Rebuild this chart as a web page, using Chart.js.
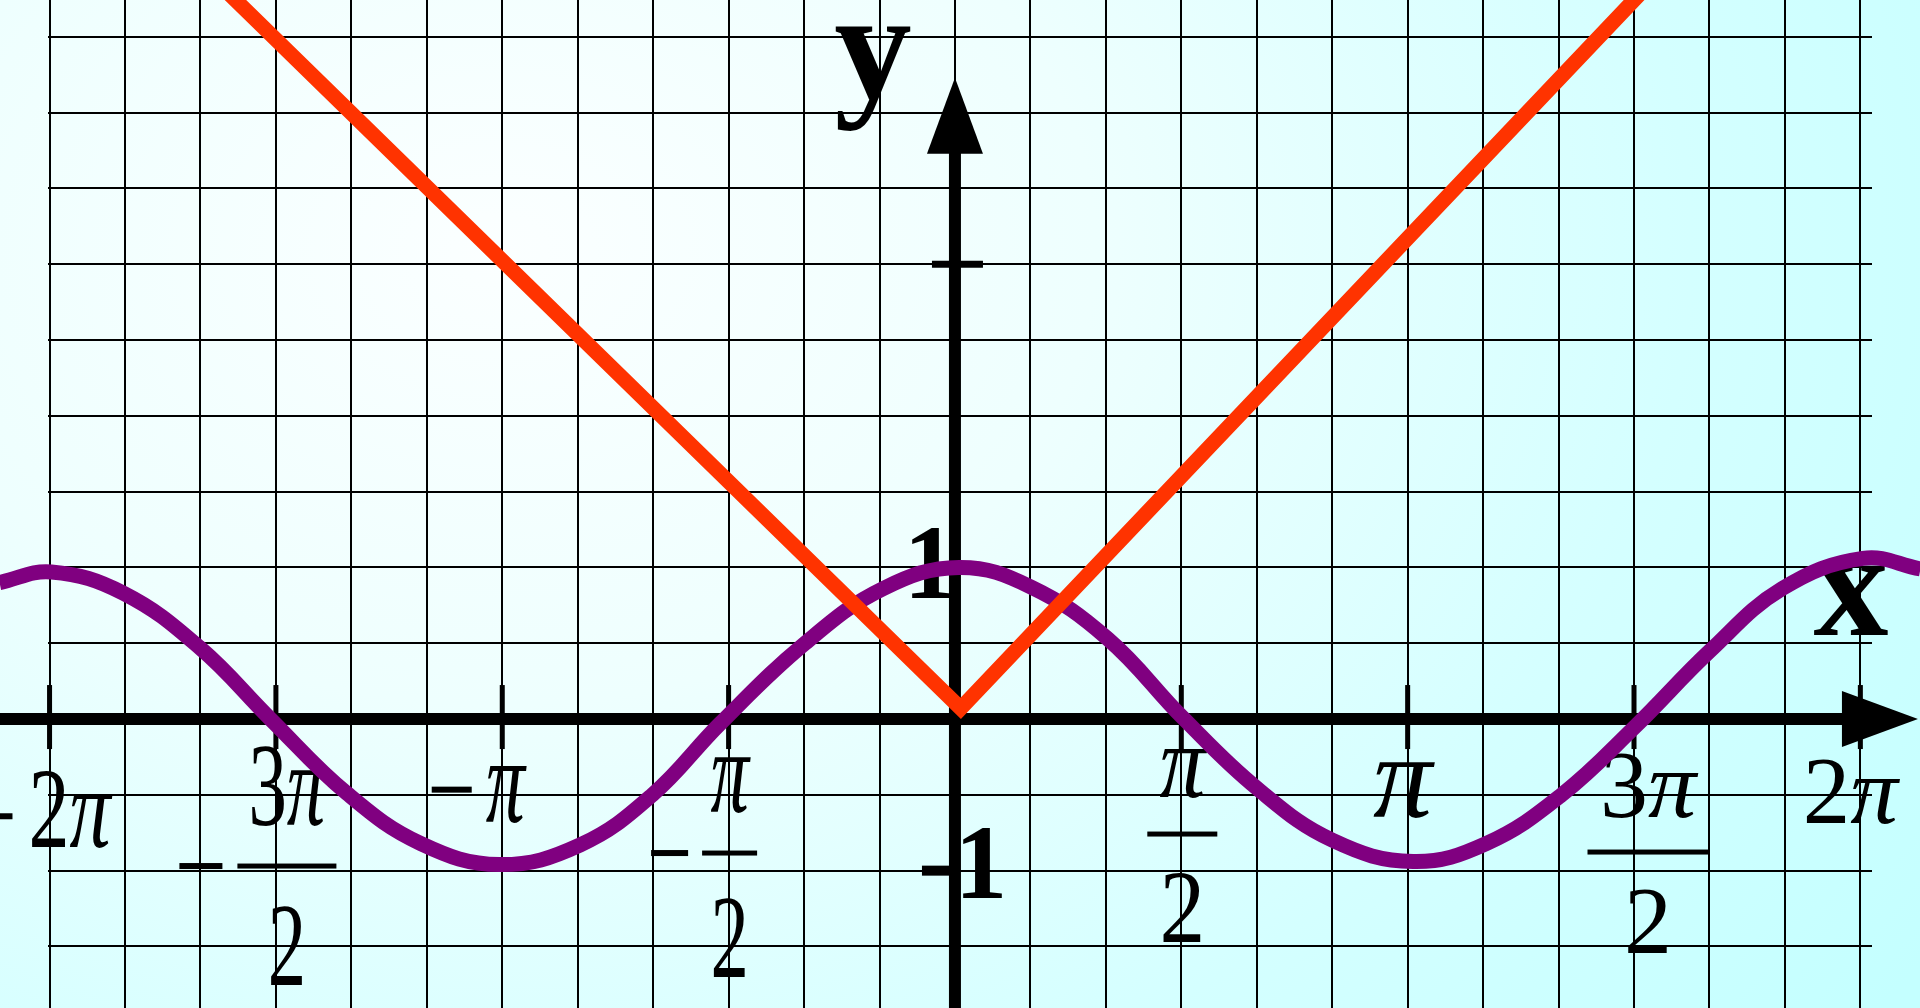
<!DOCTYPE html>
<html>
<head>
<meta charset="utf-8">
<script src="https://cdn.jsdelivr.net/npm/chart.js@4.4.1/dist/chart.umd.min.js"></script>
<style>
  html, body { margin: 0; padding: 0; width: 1920px; height: 1008px; overflow: hidden; }
  body {
    background: radial-gradient(ellipse 1700px 1300px at 500px 250px,
      #fbffff 0%, #eefffe 35%, #d4ffff 70%, #c4ffff 100%);
  }
  #wrap { position: relative; width: 1920px; height: 1008px; }
</style>
</head>
<body>
<div id="wrap"><canvas id="c" width="1920" height="1008"></canvas></div>
<script>
const PI = Math.PI;

// ---- data ----
// y = cos x (hand-drawn purple curve)
const cosX = [-6.63, -6.27, -5.77, -5.24, -4.75, -4.22, -3.71, -3.16, -2.60, -2.10, -1.63, -1.04, -0.50,
               0.03,  0.53,  1.06,  1.58,  2.10,  2.62,  3.18,  3.69,  4.21,  4.72,  5.24,  5.74,  6.30, 6.70];
const cosY = [ 0.90,  0.97,  0.83,  0.47,  0.00, -0.49, -0.82, -0.96, -0.83, -0.50, -0.03,  0.50,  0.86,
               1.00,  0.87,  0.53,  0.01, -0.46, -0.80, -0.94, -0.82, -0.50, -0.05,  0.45,  0.86,  1.06, 0.99];
// y = |x| (red V)
const absX = [-5.27, 0.04, 4.97];
const absY = [ 5.00, 0.07, 5.00];

// axis ticks and labels
const xTickValues = [-2*PI, -3*PI/2, -PI, -PI/2, PI/2, PI, 3*PI/2, 2*PI];
const xTickLabels = ['−2π', '−3π/2', '−π', '−π/2', 'π/2', 'π', '3π/2', '2π'];
const yTickMarks  = [3, -1];
const yLabelValues = [1, -1];
const yLabelTexts  = ['1', '−1'];
const xTitle = 'x';
const yTitle = 'y';

// grid lines (every π/6 horizontally, every 0.5 vertically)
const gridXTicks = Array.from({length: 25}, (_, i) => (i - 12) * PI / 6);
const gridYTicks = Array.from({length: 13}, (_, i) => -1.5 + 0.5 * i);

// ---- view / style (not data) ----
const VIEW = { xMin: -6.294, xMax: 6.364, yMin: -1.906, yMax: 4.743 };
const AXIS = { xArrowTip: 6.683, yArrowTip: 4.23, width: 12, arrowLen: 76, arrowHalf: 28 };
const xLabelStyle = [
  {size: 114, sx: 0.72, dx: 20,  dy: 128, minusLen: 40, minusGap: 16},
  {size: 118, sx: 0.65, dx: 11,  dy: 147, bar: 99,  numUp: 41, denDown: 119, minusLen: 43, minusGap: 15},
  {size: 120, sx: 0.65, dx: 3,   dy: 103, minusLen: 40, minusGap: 14},
  {size: 118, sx: 0.65, dx: 1,   dy: 134, bar: 55,  numUp: 41, denDown: 124, minusLen: 37, minusGap: 14},
  {size: 104, sx: 0.88, dx: 1,   dy: 115, bar: 70,  numUp: 37, denDown: 108},
  {size: 118, sx: 1.0,  dx: -5,  dy: 98},
  {size: 96,  sx: 1.0,  dx: 14,  dy: 133, bar: 121, numUp: 35, denDown: 101},
  {size: 95,  sx: 1.0,  dx: -10, dy: 104}
];
const yMarkStyle = [ {from: -23, to: 28, thick: 7}, {from: -33, to: 0, thick: 10} ];
const yLabelStyle = [ {dx: -25, dy: 31, size: 105}, {dx: 26, dy: 27, size: 105} ];

const SERIF = '"Liberation Serif", "Times New Roman", serif';

function runsOf(str) {
  const runs = [];
  for (const ch of str) {
    const it = ch === 'π';
    const last = runs[runs.length - 1];
    if (last && last.it === it) last.t += ch; else runs.push({t: ch, it});
  }
  return runs;
}
function fontOf(r, size, bold) {
  return (r.it ? 'italic ' : '') + (bold ? 'bold ' : '') + size + 'px ' + SERIF;
}
function drawText(ctx, str, cx, base, size, sx, bold) {
  const runs = runsOf(str);
  let total = 0;
  runs.forEach(r => { ctx.font = fontOf(r, size, bold); r.w = ctx.measureText(r.t).width; total += r.w; });
  ctx.save();
  ctx.translate(cx, base);
  ctx.scale(sx, 1);
  ctx.textAlign = 'left';
  ctx.textBaseline = 'alphabetic';
  let x = -total / 2;
  runs.forEach(r => { ctx.font = fontOf(r, size, bold); ctx.fillText(r.t, x, 0); x += r.w; });
  ctx.restore();
  return total * sx;
}

const axesPlugin = {
  id: 'mathAxes',
  beforeDatasetsDraw(chart) {
    const ctx = chart.ctx;
    const xs = chart.scales.x, ys = chart.scales.y;
    const X = v => xs.getPixelForValue(v);
    const Y = v => ys.getPixelForValue(v);
    const ox = X(0), oy = Y(0);
    ctx.save();
    ctx.fillStyle = '#000';
    ctx.strokeStyle = '#000';

    // x axis with arrow
    const xTip = X(AXIS.xArrowTip);
    ctx.lineWidth = AXIS.width;
    ctx.beginPath(); ctx.moveTo(0, oy); ctx.lineTo(xTip - AXIS.arrowLen + 2, oy); ctx.stroke();
    ctx.beginPath();
    ctx.moveTo(xTip, oy);
    ctx.lineTo(xTip - AXIS.arrowLen, oy - AXIS.arrowHalf);
    ctx.lineTo(xTip - AXIS.arrowLen, oy + AXIS.arrowHalf);
    ctx.closePath(); ctx.fill();

    // y axis with arrow
    const yTip = Y(AXIS.yArrowTip);
    ctx.beginPath(); ctx.moveTo(ox, chart.height); ctx.lineTo(ox, yTip + AXIS.arrowLen - 2); ctx.stroke();
    ctx.beginPath();
    ctx.moveTo(ox, yTip);
    ctx.lineTo(ox - AXIS.arrowHalf, yTip + AXIS.arrowLen);
    ctx.lineTo(ox + AXIS.arrowHalf, yTip + AXIS.arrowLen);
    ctx.closePath(); ctx.fill();

    // x ticks and labels
    xTickValues.forEach((v, i) => {
      const st = xLabelStyle[i];
      const tx = X(v);
      ctx.fillRect(tx - 2.5, oy - 34, 5, 64);
      let lab = xTickLabels[i];
      const neg = lab.startsWith('−');
      if (neg) lab = lab.slice(1);
      const cx = tx + st.dx, by = oy + st.dy;
      let left, minusY;
      if (lab.includes('/')) {
        const [num, den] = lab.split('/');
        ctx.fillRect(cx - st.bar / 2, by - 2.5, st.bar, 5);
        drawText(ctx, num, cx, by - st.numUp, st.size, st.sx, false);
        drawText(ctx, den, cx, by + st.denDown, st.size, st.sx, false);
        left = cx - st.bar / 2; minusY = by;
      } else {
        const w = drawText(ctx, lab, cx, by, st.size, st.sx, false);
        left = cx - w / 2; minusY = by - 0.27 * st.size;
      }
      if (neg) ctx.fillRect(left - st.minusGap - st.minusLen, minusY - 3, st.minusLen, 6);
    });

    // y tick marks
    yTickMarks.forEach((v, i) => {
      const s = yMarkStyle[i];
      ctx.fillRect(ox + s.from, Y(v) - s.thick / 2, s.to - s.from, s.thick);
    });
    // y labels (the minus of "−1" is the tick bar left of the axis)
    yLabelValues.forEach((v, i) => {
      const s = yLabelStyle[i];
      const txt = yLabelTexts[i].replace('−', '');
      drawText(ctx, txt, ox + s.dx, Y(v) + s.dy, s.size, 1, true);
    });

    // axis titles
    drawText(ctx, yTitle, ox - 82, yTip + 20, 155, 1, true);
    drawText(ctx, xTitle, xTip - 67, oy - 84, 150, 1, true);

    ctx.restore();
  }
};

new Chart(document.getElementById('c').getContext('2d'), {
  type: 'line',
  data: {
    datasets: [
      {
        label: 'y = |x|',
        data: absX.map((x, i) => ({x, y: absY[i]})),
        borderColor: '#ff3300',
        borderWidth: 15,
        borderJoinStyle: 'miter',
        pointRadius: 0,
        tension: 0,
        clip: false
      },
      {
        label: 'y = cos x',
        data: cosX.map((x, i) => ({x, y: cosY[i]})),
        borderColor: '#800080',
        borderWidth: 15,
        pointRadius: 0,
        tension: 0.4,
        clip: false
      }
    ]
  },
  options: {
    responsive: false,
    maintainAspectRatio: false,
    animation: false,
    events: [],
    layout: { padding: { left: 48, right: 48, top: 0, bottom: 0 } },
    elements: { line: { capBezierPoints: false } },
    plugins: { legend: { display: false }, tooltip: { enabled: false }, title: { display: false } },
    scales: {
      x: {
        type: 'linear',
        min: VIEW.xMin, max: VIEW.xMax,
        afterBuildTicks: s => { s.ticks = gridXTicks.map(v => ({value: v})); },
        ticks: { display: false, autoSkip: false },
        grid: { color: '#000', lineWidth: 2, drawTicks: false },
        border: { display: false }
      },
      y: {
        type: 'linear',
        min: VIEW.yMin, max: VIEW.yMax,
        afterBuildTicks: s => { s.ticks = gridYTicks.map(v => ({value: v})); },
        ticks: { display: false, autoSkip: false },
        grid: { color: '#000', lineWidth: 2, drawTicks: false },
        border: { display: false }
      }
    }
  },
  plugins: [axesPlugin]
});
</script>
</body>
</html>
